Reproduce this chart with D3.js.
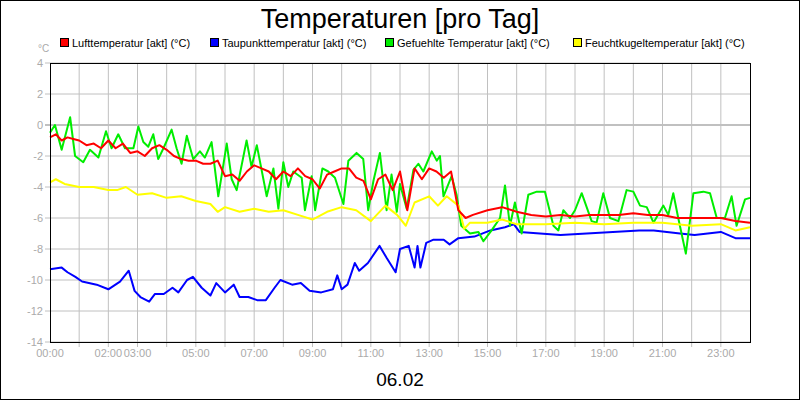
<!doctype html>
<html lang="de">
<head>
<meta charset="utf-8">
<title>Temperaturen [pro Tag]</title>
<script src="https://d3js.org/d3.v7.min.js"></script>
<style>
  body { margin: 0; background: #fff; }
  svg { font-family: "Liberation Sans", Arial, sans-serif; }
</style>
</head>
<body>
<svg id="chart" width="800" height="400"></svg>
<script>
// Stunden des Tages (x) und Werte je Reihe
const tickHours = [0, 2, 3, 5, 7, 9, 11, 13, 15, 17, 19, 21, 23];
const yTicks = [4, 2, 0, -2, -4, -6, -8, -10, -12, -14];

const luftT = [0,0.2,0.4,0.6,0.8,1,1.25,1.5,1.75,2,2.25,2.5,2.75,3,3.25,3.5,3.75,4,4.25,4.5,4.75,5,5.25,5.5,5.75,6,6.25,6.5,6.75,7,7.25,7.5,7.75,8,8.25,8.5,8.75,9,9.25,9.5,9.75,10,10.25,10.5,10.75,11,11.25,11.5,11.75,12,12.25,12.5,12.75,13,13.25,13.5,13.75,14,14.25,14.5,15,15.5,16,16.5,17,17.5,18,18.5,19,19.5,20,20.5,21,21.5,22,22.5,23,23.5,24];
const luftV = [-0.8,-0.6,-1.0,-0.8,-0.9,-1.0,-1.3,-1.2,-1.5,-1.0,-1.5,-1.2,-1.8,-1.7,-2.0,-1.5,-1.3,-1.6,-2.0,-2.2,-2.3,-2.3,-2.5,-2.5,-2.3,-3.3,-3.2,-3.6,-3.0,-2.6,-2.8,-3.0,-3.5,-3.0,-3.3,-2.8,-3.3,-3.5,-4.1,-3.2,-3.0,-2.8,-2.8,-3.4,-3.6,-4.8,-3.5,-3.2,-4.2,-3.0,-5.5,-2.8,-3.5,-2.8,-3.0,-3.4,-3.0,-5.5,-6.0,-5.8,-5.5,-5.3,-5.6,-5.8,-5.9,-5.8,-5.9,-5.8,-5.8,-5.8,-5.7,-5.8,-5.8,-6.0,-6.0,-6.0,-6.0,-6.2,-6.3];

const taupT = [0,0.4,0.6,0.87,1.1,1.6,2.0,2.4,2.7,2.9,3.1,3.4,3.6,3.9,4.2,4.4,4.7,4.9,5.2,5.5,5.7,6.0,6.3,6.5,6.8,7.1,7.4,7.7,7.9,8.3,8.6,8.9,9.3,9.7,9.85,10.0,10.2,10.45,10.6,10.9,11.3,11.55,11.85,12.0,12.3,12.5,12.6,12.7,12.9,13.15,13.5,13.7,14.0,14.55,15.1,15.6,15.9,16.1,16.8,17.5,18.4,19.3,20.2,20.7,21.6,22.1,23.0,23.5,24];
const taupV = [-9.3,-9.2,-9.5,-9.8,-10.1,-10.3,-10.6,-10.1,-9.4,-10.7,-11.1,-11.4,-10.9,-10.9,-10.5,-10.8,-10.0,-9.8,-10.5,-11.0,-10.2,-10.8,-10.3,-11.1,-11.1,-11.3,-11.3,-10.5,-10.0,-10.3,-10.2,-10.7,-10.8,-10.6,-9.7,-10.6,-10.3,-8.9,-9.4,-8.9,-7.8,-8.6,-9.5,-8.0,-7.8,-9.2,-7.8,-9.2,-7.6,-7.4,-7.4,-7.7,-7.3,-7.2,-6.8,-6.6,-6.4,-6.9,-7.0,-7.1,-7.0,-6.9,-6.8,-6.8,-7.0,-7.1,-6.9,-7.3,-7.3];

const gefT = [0,0.17,0.4,0.69,0.86,1.14,1.37,1.66,1.92,2.11,2.34,2.57,2.86,3.03,3.2,3.37,3.54,3.71,3.89,4.17,4.34,4.51,4.69,4.91,5.14,5.31,5.54,5.77,6.06,6.23,6.4,6.74,6.91,7.09,7.43,7.66,7.83,8.0,8.17,8.34,8.63,8.74,8.97,9.09,9.34,9.54,9.77,10.06,10.23,10.51,10.74,10.91,11.09,11.31,11.54,11.71,11.89,12.0,12.23,12.46,12.63,12.8,13.09,13.26,13.37,13.49,13.77,13.94,14.1,14.4,14.69,14.86,15.14,15.43,15.6,15.77,15.94,16.17,16.4,16.69,16.97,17.26,17.43,17.6,17.83,18.0,18.23,18.57,18.74,18.97,19.2,19.49,19.77,20.0,20.23,20.46,20.69,21.03,21.2,21.37,21.54,21.8,22.06,22.4,22.63,22.86,23.14,23.37,23.54,23.83,24];
const gefV = [-0.5,0.0,-1.6,0.5,-2.0,-2.4,-1.6,-2.1,-0.4,-1.5,-0.6,-1.5,-1.5,-0.1,-1.1,-1.4,-0.6,-2.2,-1.5,-0.3,-1.5,-2.5,-0.7,-2.2,-1.7,-2.1,-1.1,-4.6,-1.2,-3.5,-4.2,-1.0,-2.7,-1.3,-4.6,-2.8,-5.4,-2.4,-4.0,-3.0,-3.4,-5.5,-3.3,-5.5,-2.8,-3.0,-3.4,-5.1,-2.3,-1.8,-2.2,-5.5,-3.6,-1.8,-5.5,-3.2,-5.6,-3.8,-5.4,-2.9,-2.5,-3.0,-1.7,-2.3,-2.0,-4.6,-3.3,-4.5,-6.5,-7.0,-6.9,-7.5,-6.8,-6.0,-3.9,-6.5,-5.0,-7.0,-4.5,-4.3,-4.3,-6.5,-6.8,-5.5,-6.0,-5.5,-4.4,-6.2,-6.3,-4.4,-6.0,-6.2,-4.2,-4.3,-5.2,-5.3,-6.3,-5.2,-5.8,-4.4,-6.0,-8.3,-4.4,-4.3,-4.4,-6.0,-6.0,-4.6,-6.5,-4.8,-4.7];

const feuchtT = [0,0.2,0.5,1,1.5,2,2.3,2.6,3,3.5,4,4.5,5,5.5,5.75,6,6.5,7,7.5,8,8.5,9,9.5,10,10.5,11,11.5,11.9,12.2,12.5,13,13.3,13.6,14,14.2,14.4,15,15.5,16,17,18,19,20,21,22,23,23.5,24];
const feuchtV = [-3.7,-3.5,-3.8,-4.0,-4.0,-4.2,-4.2,-4.0,-4.5,-4.4,-4.7,-4.6,-4.9,-5.1,-5.6,-5.3,-5.6,-5.4,-5.6,-5.5,-5.8,-6.1,-5.6,-5.3,-5.5,-6.2,-5.2,-5.8,-6.5,-5.0,-4.6,-5.2,-4.6,-5.2,-6.7,-6.3,-6.3,-6.1,-6.4,-6.4,-6.3,-6.4,-6.3,-6.3,-6.5,-6.4,-6.8,-6.6];

const series = [
  { name: "Lufttemperatur [akt] (°C)", color: "#ff0000", t: luftT, v: luftV, lx: 60 },
  { name: "Taupunkttemperatur [akt] (°C)", color: "#0000ff", t: taupT, v: taupV, lx: 210 },
  { name: "Gefuehlte Temperatur [akt] (°C)", color: "#00ee00", t: gefT, v: gefV, lx: 385 },
  { name: "Feuchtkugeltemperatur [akt] (°C)", color: "#ffff00", t: feuchtT, v: feuchtV, lx: 573 }
];

const svg = d3.select("#chart");
const m = { l: 50, r: 750, t: 63, b: 342 };
const x = d3.scaleLinear().domain([0, 24]).range([m.l, m.r]);
const y = d3.scaleLinear().domain([-14, 4]).range([m.b, m.t]);

svg.append("rect").attr("x", 0.5).attr("y", 0.5).attr("width", 799).attr("height", 399)
  .attr("fill", "none").attr("stroke", "#000");

svg.append("text").attr("x", 400).attr("y", 28).attr("text-anchor", "middle")
  .attr("font-size", 27).text("Temperaturen [pro Tag]");

// Legende
const leg = svg.append("g").selectAll("g").data(series).enter().append("g")
  .attr("transform", d => `translate(${d.lx},44)`);
leg.append("rect").attr("x", 0.5).attr("y", -5.5).attr("width", 8).attr("height", 8)
  .attr("fill", d => d.color).attr("stroke", "#000");
leg.append("text").attr("x", 12).attr("y", 3).attr("font-size", 11).text(d => d.name);

svg.append("text").attr("x", 38).attr("y", 52).attr("font-size", 10).attr("fill", "#aaa").text("°C");

// Gitter
const g = svg.append("g");
g.selectAll(".vg").data(d3.range(1, 24)).enter().append("line")
  .attr("x1", d => x(d)).attr("x2", d => x(d)).attr("y1", m.t).attr("y2", m.b + 5)
  .attr("stroke", "#c0c0c0");
g.selectAll(".hg").data(yTicks).enter().append("line")
  .attr("x1", m.l - 5).attr("x2", m.r).attr("y1", d => y(d)).attr("y2", d => y(d))
  .attr("stroke", "#c0c0c0").attr("stroke-width", d => d === 0 ? 2 : 1);

g.selectAll(".yl").data(yTicks).enter().append("text")
  .attr("x", 43).attr("y", d => y(d) + 4).attr("text-anchor", "end")
  .attr("font-size", 11).attr("fill", "#aaa").text(d => d);
g.selectAll(".xl").data(tickHours).enter().append("text")
  .attr("x", d => x(d)).attr("y", 357).attr("text-anchor", "middle")
  .attr("font-size", 11).attr("fill", "#aaa")
  .text(d => String(d).padStart(2, "0") + ":00");

// Linien
const line = d3.line().x(d => x(d[0])).y(d => y(d[1]));
svg.append("g").attr("clip-path", null).selectAll("path").data(series).enter().append("path")
  .attr("d", s => line(s.t.map((t, i) => [t, s.v[i]])))
  .attr("fill", "none").attr("stroke", s => s.color).attr("stroke-width", 2)
  .attr("stroke-linejoin", "round");
// Reihenfolge: Gelb, Grün, Rot, Blau wie im Original
svg.selectAll("path").filter(s => s.t === feuchtT).lower();
svg.selectAll("path").filter(s => s.t === feuchtT).raise();
svg.selectAll("path").filter(s => s.t === luftT).raise();

svg.append("rect").attr("x", m.l + 0.5).attr("y", m.t + 0.5).attr("width", m.r - m.l)
  .attr("height", m.b - m.t).attr("fill", "none").attr("stroke", "#000");

svg.append("text").attr("x", 400).attr("y", 386).attr("text-anchor", "middle")
  .attr("font-size", 19).text("06.02");
</script>
</body>
</html>
